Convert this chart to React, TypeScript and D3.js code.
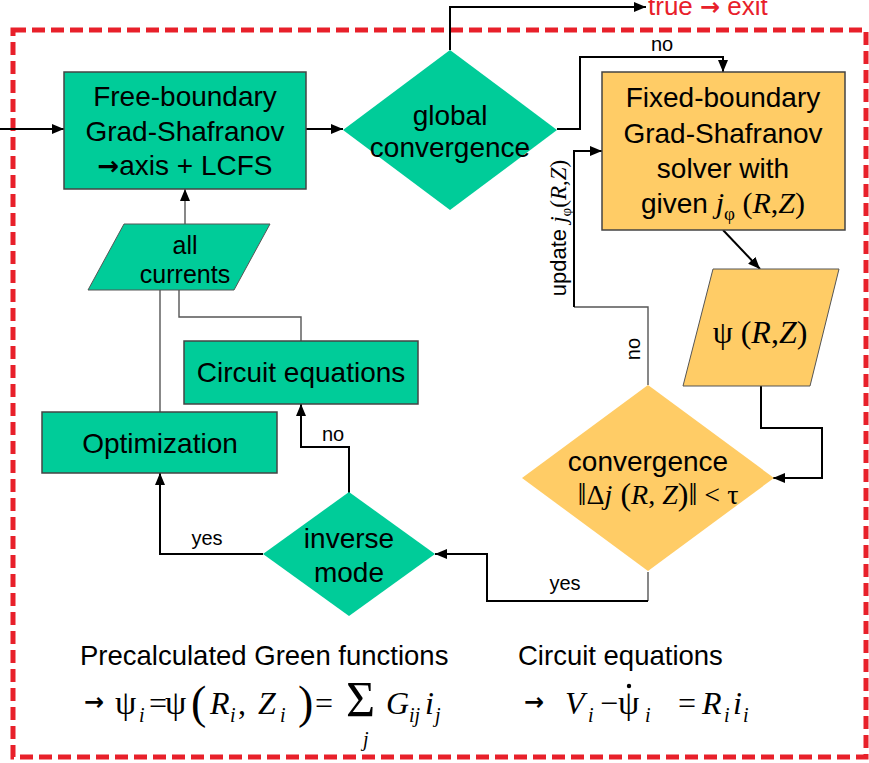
import React from 'react';
import * as d3 from 'd3';

const TEAL = '#00CC99';
const GOLD = '#FFCC66';
const RED = '#E8202A';
const SANS = '"Liberation Sans", Arial, sans-serif';
const SERIF = '"Liberation Serif", "Times New Roman", serif';
const ARROWFONT = '"DejaVu Sans", sans-serif';

type P = [number, number];

const rectNodes = [
  { id: 'free', x: 64, y: 72, w: 242, h: 117, fill: TEAL },
  { id: 'fixed', x: 602, y: 72, w: 243, h: 158, fill: GOLD },
  { id: 'circuit', x: 184, y: 341, w: 234, h: 63, fill: TEAL },
  { id: 'opt', x: 42, y: 412, w: 235, h: 61, fill: TEAL },
];

const diamondNodes = [
  { id: 'global', cx: 450, cy: 130, hw: 107, hh: 80, fill: TEAL },
  { id: 'conv', cx: 648, cy: 478, hw: 126, hh: 93, fill: GOLD },
  { id: 'inverse', cx: 349, cy: 554, hw: 86, hh: 62, fill: TEAL },
];

const paraNodes = [
  { id: 'psi', top: [713, 839], bottom: [683, 810], y0: 269, y1: 386, fill: GOLD },
  { id: 'currents', top: [124, 270], bottom: [88, 234], y0: 224, y1: 290, fill: TEAL },
];

const edges: { pts: P[]; arrow: boolean; kind: 'black' | 'gray' }[] = [
  { pts: [[0, 129], [64, 129]], arrow: true, kind: 'black' },
  { pts: [[306, 129], [343, 129]], arrow: true, kind: 'black' },
  { pts: [[450, 50], [450, 7], [646, 7]], arrow: true, kind: 'black' },
  { pts: [[557, 129], [580, 129], [580, 57], [723, 57], [723, 72]], arrow: true, kind: 'black' },
  { pts: [[723, 230], [760, 269]], arrow: true, kind: 'black' },
  { pts: [[761, 386], [761, 428], [822, 428], [822, 478], [773, 478]], arrow: true, kind: 'black' },
  { pts: [[648, 385], [648, 307], [574, 307]], arrow: false, kind: 'gray' },
  { pts: [[574, 307], [574, 151], [602, 151]], arrow: true, kind: 'black' },
  { pts: [[648, 572], [648, 601]], arrow: false, kind: 'gray' },
  { pts: [[648, 601], [487, 601], [487, 554], [435, 554]], arrow: true, kind: 'black' },
  { pts: [[263, 554], [160, 554], [160, 473]], arrow: true, kind: 'black' },
  { pts: [[349, 493], [349, 447], [301, 447], [301, 404]], arrow: true, kind: 'black' },
  { pts: [[301, 341], [301, 317], [179, 317], [179, 290]], arrow: false, kind: 'gray' },
  { pts: [[160, 412], [160, 290]], arrow: false, kind: 'gray' },
  { pts: [[185, 224], [185, 189]], arrow: true, kind: 'gray' },
];

const freeLines = ['Free-boundary', 'Grad-Shafranov'];
const fixedLines = ['Fixed-boundary', 'Grad-Shafranov', 'solver with'];
const globalLines = ['global', 'convergence'];
const inverseLines = ['inverse', 'mode'];
const currentsLines = ['all', 'currents'];
const edgeLabels = [
  { t: 'no', x: 662, y: 51 },
  { t: 'no', x: 333, y: 441 },
  { t: 'yes', x: 207, y: 545 },
  { t: 'yes', x: 565, y: 590 },
];
const footerTitles = [
  { t: 'Precalculated Green functions', x: 80, y: 665 },
  { t: 'Circuit equations', x: 518, y: 665 },
];

const lineGen = d3.line<P>().x(d => d[0]).y(d => d[1]);

const I = (s: string) => <tspan fontStyle="italic">{s}</tspan>;

export default function App() {
  const B = 714;
  return (
    <svg width={869} height={763} style={{ position: 'absolute', left: 0, top: 0, background: '#fff' }}>
      <defs>
        <marker id="ah" viewBox="0 0 12 10" refX="12" refY="5" markerWidth="12" markerHeight="10"
          markerUnits="userSpaceOnUse" orient="auto">
          <path d="M0,0 L12,5 L0,10 z" fill="#000" />
        </marker>
      </defs>

      <rect x={13} y={30} width={853} height={727} fill="none" stroke={RED} strokeWidth={5}
        strokeDasharray="13 6" />

      {edges.map((e, i) => (
        <path key={i} d={lineGen(e.pts) || ''} fill="none"
          stroke={e.kind === 'black' ? '#000' : '#555'}
          strokeWidth={e.kind === 'black' ? 2 : 1.4}
          markerEnd={e.arrow ? 'url(#ah)' : undefined} />
      ))}

      {rectNodes.map(n => (
        <rect key={n.id} x={n.x} y={n.y} width={n.w} height={n.h} fill={n.fill} stroke="#444" strokeWidth={1.5} />
      ))}
      {diamondNodes.map(n => (
        <path key={n.id}
          d={lineGen([[n.cx, n.cy - n.hh], [n.cx + n.hw, n.cy], [n.cx, n.cy + n.hh], [n.cx - n.hw, n.cy]]) + 'Z'}
          fill={n.fill} stroke="none" />
      ))}
      {paraNodes.map(n => (
        <path key={n.id}
          d={lineGen([[n.top[0], n.y0], [n.top[1], n.y0], [n.bottom[1], n.y1], [n.bottom[0], n.y1]]) + 'Z'}
          fill={n.fill} stroke="#555" strokeWidth={1} />
      ))}

      <g fontFamily={SANS} fontSize={28} textAnchor="middle" fill="#000">
        {freeLines.map((t, i) => <text key={t} x={185} y={106 + i * 34.5}>{t}</text>)}
        <text x={185} y={175}><tspan fontFamily={ARROWFONT} fontWeight="bold" fontSize={26}>{'\u2192'}</tspan>axis + LCFS</text>
        {fixedLines.map((t, i) => <text key={t + 'f'} x={723} y={107 + i * 35.5}>{t}</text>)}
        <text x={723} y={213}>given <tspan fontFamily={SERIF} fontStyle="italic" fontSize={30}>j</tspan>
          <tspan fontFamily={SERIF} fontSize={19} dy={7}>{'\u03C6'}</tspan>
          <tspan fontFamily={SERIF} fontSize={30} dy={-7}> ({I('R')},{I('Z')})</tspan></text>
        {globalLines.map((t, i) => <text key={t} x={450} y={125 + i * 32}>{t}</text>)}
        {inverseLines.map((t, i) => <text key={t} x={349} y={548 + i * 34}>{t}</text>)}
        <text x={301} y={382}>Circuit equations</text>
        <text x={160} y={453}>Optimization</text>
        <text x={648} y={471}>convergence</text>
      </g>
      <g fontFamily={SANS} fontSize={25} textAnchor="middle">
        {currentsLines.map((t, i) => <text key={t} x={185} y={254 + i * 29}>{t}</text>)}
      </g>

      <text x={658} y={504} fontFamily={SERIF} fontSize={28} textAnchor="middle">
        <tspan fontSize={32} dy={1}>{'\u2016'}</tspan><tspan dy={-1}>{'\u0394'}</tspan>{I('j')}<tspan fontSize={32} dy={1}> (</tspan><tspan dy={-1}>{I('R')}, {I('Z')}</tspan>
        <tspan fontSize={32} dy={1}>)</tspan><tspan fontSize={32}>{'\u2016'}</tspan><tspan dy={-1}>{' < \u03C4'}</tspan>
      </text>

      <text x={760} y={343} fontFamily={SERIF} fontSize={32} textAnchor="middle">
        {'\u03C8 ('}{I('R')},{I('Z')})
      </text>

      <g fontFamily={SANS} fontSize={20} textAnchor="middle">
        {edgeLabels.map((l, i) => <text key={i} x={l.x} y={l.y}>{l.t}</text>)}
        <text transform="translate(640,349) rotate(-90)">no</text>
        <text transform="translate(566,228) rotate(-90)" fontSize={22}>update <tspan fontFamily={SERIF} fontStyle="italic" fontSize={23}>j</tspan>
          <tspan fontFamily={SERIF} fontSize={15} dy={5}>{'\u03C6'}</tspan>
          <tspan fontFamily={SERIF} fontSize={23} dy={-5}>({I('R')},{I('Z')})</tspan></text>
      </g>

      <text x={648} y={15} fontFamily={SANS} fontSize={26} fill={RED}>true <tspan fontFamily={ARROWFONT} fontWeight="bold" fontSize={24}>{'\u2192'}</tspan> exit</text>

      <g fontFamily={SANS} fontSize={27.5}>
        {footerTitles.map(f => <text key={f.t} x={f.x} y={f.y}>{f.t}</text>)}
      </g>

      <g fontFamily={SERIF} fontSize={32}>
        <text x={84} y={B - 4} fontFamily={ARROWFONT} fontWeight="bold" fontSize={24}>{'\u2192'}</text>
        <text x={115} y={B} fontSize={34}>{'\u03C8'}</text>
        <text x={139} y={B + 8} fontSize={20} fontStyle="italic">i</text>
        <text x={149} y={B}>=</text>
        <text x={165} y={B} fontSize={34}>{'\u03C8'}</text>
        <text x={191} y={B + 4} fontSize={46}>(</text>
        <text x={210} y={B} fontStyle="italic">R</text>
        <text x={230} y={B + 8} fontSize={20} fontStyle="italic">i</text>
        <text x={238} y={B}>,</text>
        <text x={258} y={B} fontStyle="italic">Z</text>
        <text x={280} y={B + 8} fontSize={20} fontStyle="italic">i</text>
        <text x={298} y={B + 4} fontSize={46}>)</text>
        <text x={315} y={B}>=</text>
        <text x={346} y={B + 2} fontSize={50}>{'\u03A3'}</text>
        <text x={363} y={B + 32} fontSize={20} fontStyle="italic">j</text>
        <text x={386} y={B} fontStyle="italic">G</text>
        <text x={409} y={B + 8} fontSize={20} fontStyle="italic">ij</text>
        <text x={425} y={B} fontStyle="italic">i</text>
        <text x={435} y={B + 8} fontSize={20} fontStyle="italic">j</text>

        <text x={524} y={B - 4} fontFamily={ARROWFONT} fontWeight="bold" fontSize={24}>{'\u2192'}</text>
        <text x={565} y={B} fontStyle="italic">V</text>
        <text x={588} y={B + 8} fontSize={20} fontStyle="italic">i</text>
        <text x={600} y={B}>{'\u2212'}</text>
        <text x={618} y={B} fontSize={34}>{'\u03C8'}</text>
        <circle cx={629} cy={686} r={2.2} fill="#000" />
        <text x={645} y={B + 8} fontSize={20} fontStyle="italic">i</text>
        <text x={678} y={B}>=</text>
        <text x={702} y={B} fontStyle="italic">R</text>
        <text x={724} y={B + 8} fontSize={20} fontStyle="italic">i</text>
        <text x={733} y={B} fontStyle="italic">i</text>
        <text x={743} y={B + 8} fontSize={20} fontStyle="italic">i</text>
      </g>
    </svg>
  );
}
